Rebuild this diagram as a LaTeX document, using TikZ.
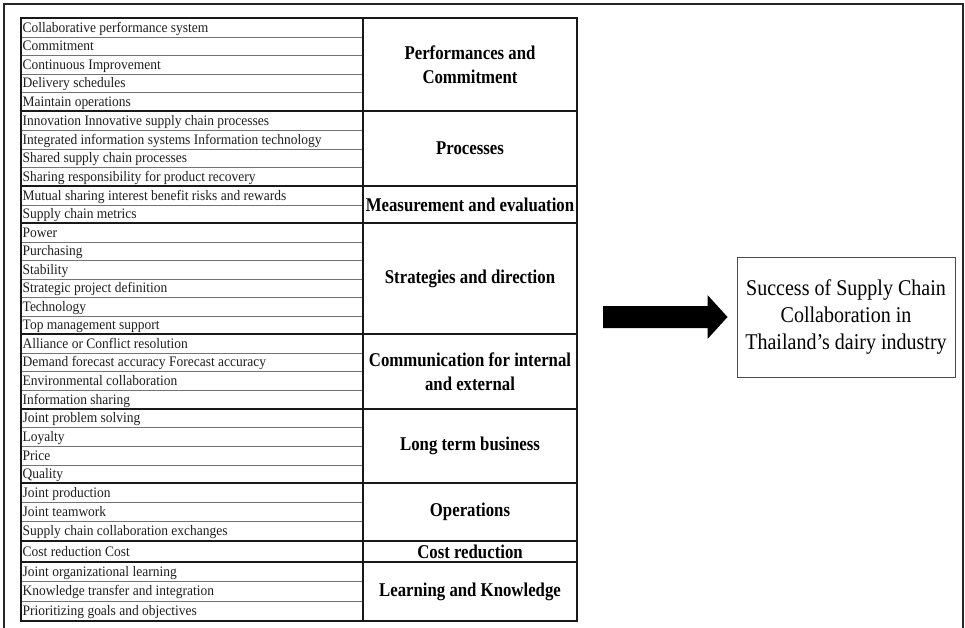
\documentclass[tikz,border=0pt]{standalone}
\usepackage{fontspec}
\setmainfont{Liberation Serif}
\newfontfamily\itemfont[FakeStretch=0.93]{Liberation Serif}
\newfontfamily\headfont[FakeStretch=0.86]{Liberation Serif}
\newfontfamily\goalfont[FakeStretch=0.89]{Liberation Serif}
\usetikzlibrary{calc}

\begin{document}
\begin{tikzpicture}[x=1pt,y=-1pt,
  item/.style={anchor=west, inner sep=0pt, text height=12pt, text depth=2.4pt,
    text=black!88, font=\itemfont\fontsize{14.5}{16}\selectfont},
  grouplabel/.style={inner sep=0pt, align=center,
    font=\headfont\bfseries\fontsize{19.5}{24}\selectfont},
  rowline/.style={draw=black!55, line width=0.9pt},
  groupline/.style={draw=black!90, line width=1.4pt},
  tableframe/.style={draw=black!90, line width=1.3pt},
  outerframe/.style={draw=black!85, line width=2pt},
  goalbox/.style={draw=black!70, line width=1pt, fill=white, align=center,
    minimum width=218pt, minimum height=120pt, inner sep=0pt,
    font=\goalfont\fontsize{22.5}{27}\selectfont},
  blockarrow/.style={fill=black}
]
\useasboundingbox (0,0) rectangle (965,628);
\fill[white] (0,0) rectangle (965,628);

% factor rows (left column)
\foreach \t/\b/\txt [count=\i] in {
  18/37/Collaborative performance system,
  37/55/Commitment,
  55/74/Continuous Improvement,
  74/92/Delivery schedules,
  92/111/Maintain operations,
  111/130/Innovation Innovative supply chain processes,
  130/149/Integrated information systems Information technology,
  149/167/Shared supply chain processes,
  167/186/Sharing responsibility for product recovery,
  186/205/Mutual sharing interest benefit risks and rewards,
  205/223/Supply chain metrics,
  223/242/Power,
  242/260/Purchasing,
  260/279/Stability,
  279/297/Strategic project definition,
  297/316/Technology,
  316/334/Top management support,
  334/353/Alliance or Conflict resolution,
  353/371/Demand forecast accuracy Forecast accuracy,
  371/390/Environmental collaboration,
  390/409/Information sharing,
  409/427/Joint problem solving,
  427/446/Loyalty,
  446/465/Price,
  465/483/Quality,
  483/502/Joint production,
  502/521/Joint teamwork,
  521/541/Supply chain collaboration exchanges,
  541/562/Cost reduction Cost,
  562/581/Joint organizational learning,
  581/601/Knowledge transfer and integration,
  601/621/Prioritizing goals and objectives}{
  \node[item] (item\i) at (22.5,{(\t+\b)/2}) {\txt};
  \draw[rowline] (21,\b) -- (363,\b);
}

% factor groups (right column)
\foreach \t/\b/\txt [count=\j] in {
  18/111/{Performances and\\Commitment},
  111/186/Processes,
  186/223/Measurement and evaluation,
  223/334/Strategies and direction,
  334/409/{Communication for internal\\and external},
  409/483/Long term business,
  483/541/Operations,
  541/562/Cost reduction,
  562/621/Learning and Knowledge}{
  \node[grouplabel] (group\j) at (470,{(\t+\b)/2}) {\txt};
  \draw[groupline] (21,\b) -- (577,\b);
}

% table frame and column divider
\draw[tableframe] (21,18) rectangle (577,621);
\draw[tableframe] (363,18) -- (363,621);

% outcome box
\node[goalbox] (goal) at (846,317) {Success of Supply Chain\\Collaboration in\\Thailand’s dairy industry};

% block arrow into the outcome box
\coordinate (tail) at (603,317);
\coordinate (tip) at ($(goal.west)+(-9,0)$);
\fill[blockarrow] ($(tail)+(0,-11)$) -- ($(tip)+(-20,-11)$) -- ($(tip)+(-20,-22)$)
  -- (tip) -- ($(tip)+(-20,22)$) -- ($(tip)+(-20,11)$) -- ($(tail)+(0,11)$) -- cycle;

% outer frame (open at the bottom)
\draw[outerframe] (4,628) -- (4,4) -- (963,4) -- (963,628);
\end{tikzpicture}
\end{document}
